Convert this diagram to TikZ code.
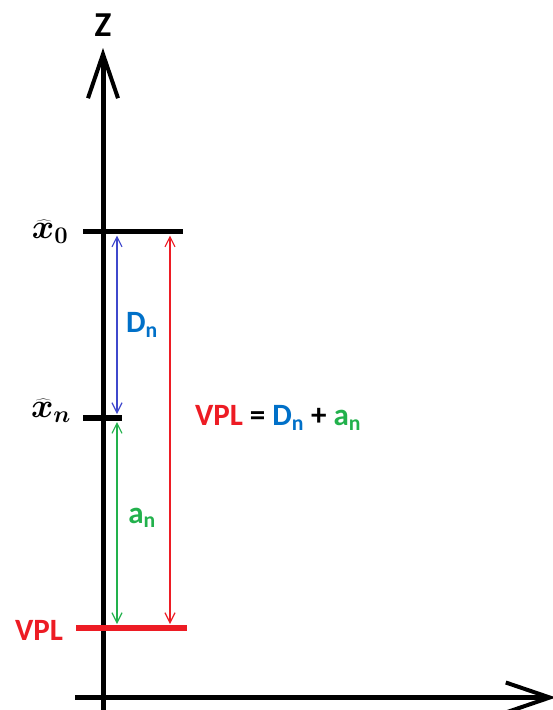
\documentclass[tikz,border=0pt]{standalone}
\usepackage{fix-cm}
\usepackage{fontspec}
\setmainfont{Carlito}
\usepackage{bm}
\usetikzlibrary{arrows.meta}
\definecolor{pred}{RGB}{237,28,36}
\definecolor{pblue}{RGB}{63,72,204}
\definecolor{tblue}{RGB}{0,112,200}
\definecolor{pgreen}{RGB}{34,177,76}
\tikzset{
  axis/.style={line width=5pt, -{Straight Barb[length=44pt,width=30pt,line width=4pt]}},
  tick/.style={line width=5.5pt},
  dim/.style={line width=1.2pt, {Straight Barb[length=10pt,width=10pt]}-{Straight Barb[length=10pt,width=10pt]}, shorten <=1pt, shorten >=1pt},
  lbl/.style={font=\fontsize{31}{34}\selectfont\bfseries, inner sep=0pt},
  mlbl/.style={font=\fontsize{34}{38}\selectfont, inner sep=0pt}
}
\begin{document}
\begin{tikzpicture}[x=1pt,y=-1pt]
\useasboundingbox (0,0) rectangle (552,710);
% axes
\coordinate (yb) at (103,712);
\coordinate (yt) at (103,48);
\coordinate (xl) at (75,697.5);
\coordinate (xr) at (556,697.5);
\draw[axis] (yb) -- (yt);
\draw[axis] (xl) -- (xr);
\node[lbl, font=\fontsize{35}{38}\selectfont\bfseries] (z) at (103,25) {Z};
% ticks
\coordinate (t0l) at (83,231.5);
\coordinate (t0r) at (183,231.5);
\coordinate (tnl) at (83,418);
\coordinate (tnr) at (122,418);
\coordinate (vl) at (76,628);
\coordinate (vr) at (187,628);
\draw[tick] (t0l) -- (t0r);
\draw[tick] (tnl) -- (tnr);
\draw[tick, pred] (vl) -- (vr);
\node[mlbl] (x0) at (50,232) {$\bm{\widehat{x}_{0}}$};
\node[mlbl] (xn) at (51,411) {$\bm{\widehat{x}_{n}}$};
\node[lbl, text=pred] (vpl) at (39,630) {VPL};
% dimension arrows
\coordinate (b0) at (117,234.5);
\coordinate (b1) at (117,415);
\coordinate (g0) at (117,421);
\coordinate (g1) at (117,625);
\coordinate (r0) at (170,234.5);
\coordinate (r1) at (170,625);
\draw[dim, pblue] (b0) -- (b1);
\draw[dim, pgreen] (g0) -- (g1);
\draw[dim, pred] (r0) -- (r1);
\node[lbl, text=tblue] (dn) at (142,325) {D\textsubscript{n}};
\node[lbl, text=pgreen] (an) at (142,518) {a\textsubscript{n}};
\node[lbl] (eq) at (278,418) {\textcolor{pred}{VPL} = \textcolor{tblue}{D\textsubscript{n}} + \textcolor{pgreen}{a\textsubscript{n}}};
\end{tikzpicture}
\end{document}
